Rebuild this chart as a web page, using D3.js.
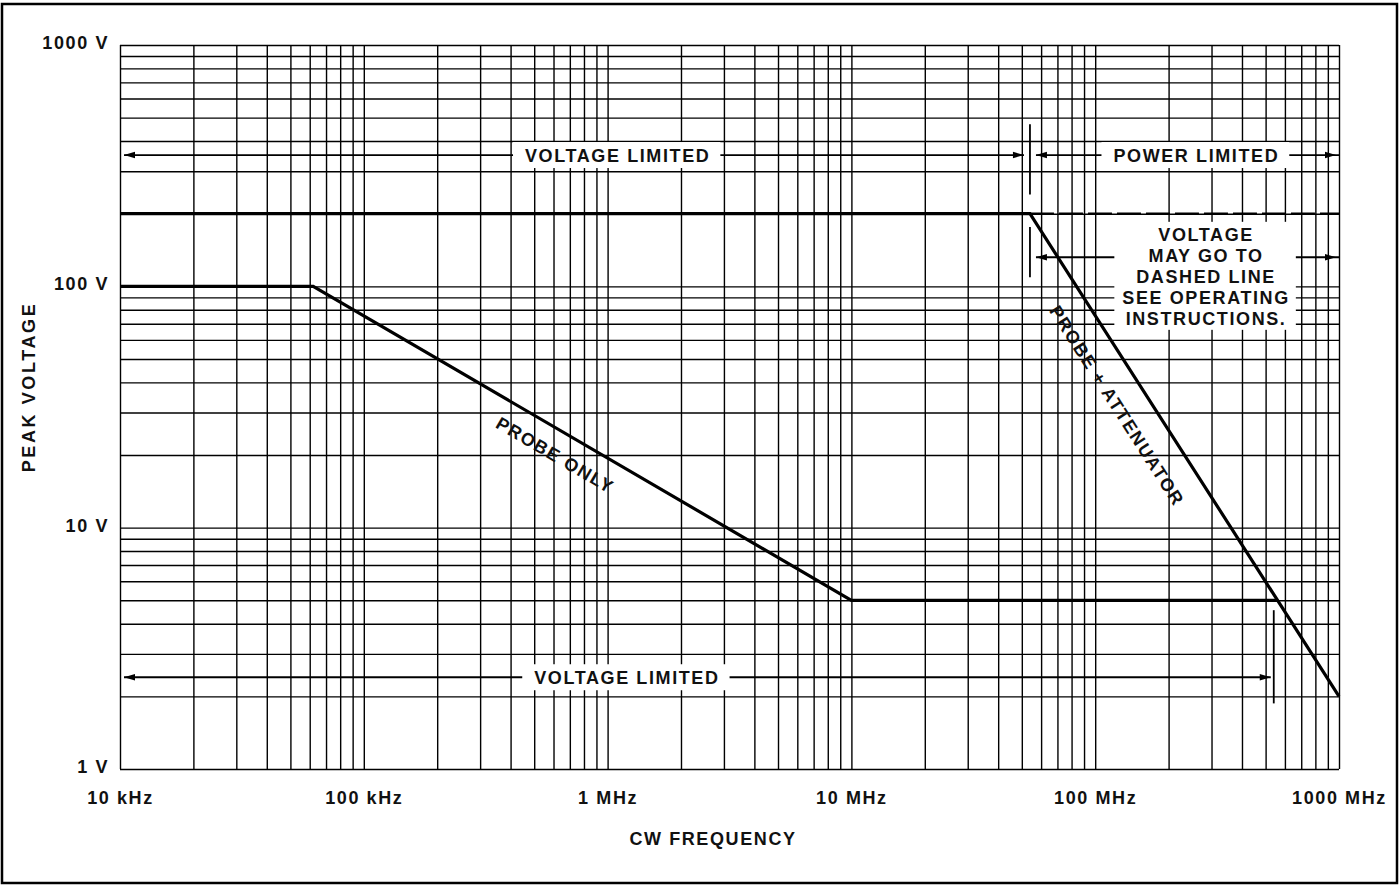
<!DOCTYPE html>
<html>
<head>
<meta charset="UTF-8">
<title>Peak voltage vs CW frequency</title>
<script src="https://d3js.org/d3.v7.min.js"></script>
<style>
  body { margin: 0; background: #fff; }
  svg { display: block; }
  text {
    font-family: "Liberation Sans", Arial, sans-serif;
    font-weight: bold;
    font-size: 18px;
    letter-spacing: 1.6px;
    fill: #111;
  }
  .grid line { stroke: #000; stroke-width: 1.4px; }
  .curve { fill: none; stroke: #000; stroke-width: 3.2px; }
  .dashed { stroke-dasharray: 24 5; stroke-width: 2.6px; }
  .ann line { stroke: #000; stroke-width: 1.8px; }
  .ann path { fill: #000; stroke: none; }
</style>
</head>
<body>
<svg id="chart" width="1400" height="888"></svg>
<script>
// axis ticks
const xTicks = [1e4, 1e5, 1e6, 1e7, 1e8, 1e9];
const xTickLabels = ["10 kHz", "100 kHz", "1 MHz", "10 MHz", "100 MHz", "1000 MHz"];
const yTicks = [1, 10, 100, 1000];
const yTickLabels = ["1 V", "10 V", "100 V", "1000 V"];

// probe only
const probeFreq = [1e4, 6.2e4, 1e7, 5.6e8];
const probeVolt = [100, 100, 5, 5];
// probe + attenuator
const attenFreq = [1e4, 5.4e7, 1e9];
const attenVolt = [200, 200, 2];
// dashed continuation
const dashFreq = [5.4e7, 1e9];
const dashVolt = [200, 200];

// voltage / power limit boundaries
const limitFreq = 5.4e7;
const lowLimitFreq = 5.4e8;

const margin = {top: 45, left: 120, right: 61, bottom: 119};
const W = 1400, H = 888;
const width = W - margin.left - margin.right,
      height = H - margin.top - margin.bottom;

const svg = d3.select("#chart");

svg.append("rect")
    .attr("x", 2).attr("y", 4)
    .attr("width", 1395).attr("height", 879)
    .attr("fill", "none").attr("stroke", "#000").attr("stroke-width", 2.5);

const g = svg.append("g").attr("transform", `translate(${margin.left},${margin.top})`);

const x = d3.scaleLog().domain([1e4, 1e9]).range([0, width]);
const y = d3.scaleLog().domain([1, 1000]).range([height, 0]);

// grid
g.append("g").attr("class", "grid")
    .attr("transform", `translate(0,${height})`)
    .call(d3.axisBottom(x).tickValues(x.ticks()).tickSize(-height).tickFormat(""))
    .call(s => s.select(".domain").remove());
g.append("g").attr("class", "grid")
    .call(d3.axisLeft(y).tickValues(y.ticks()).tickSize(-width).tickFormat(""))
    .call(s => s.select(".domain").remove());

// tick labels
g.append("g")
    .attr("transform", `translate(0,${height})`)
    .call(d3.axisBottom(x).tickValues(xTicks).tickSize(0).tickFormat((d, i) => xTickLabels[i]))
    .call(s => s.select(".domain").remove())
    .call(s => s.selectAll("text").attr("y", 35).attr("dy", null).attr("fill", "#111"));
g.append("g")
    .call(d3.axisLeft(y).tickValues(yTicks).tickSize(0).tickFormat((d, i) => yTickLabels[i]))
    .call(s => s.select(".domain").remove())
    .call(s => s.selectAll("text").attr("x", -11).attr("dy", "0.2em").attr("fill", "#111"));

// axis titles
svg.append("text")
    .attr("transform", `translate(35,387) rotate(-90)`)
    .attr("text-anchor", "middle")
    .style("letter-spacing", "2.6px")
    .text("PEAK VOLTAGE");
svg.append("text")
    .attr("x", 713).attr("y", 845)
    .attr("text-anchor", "middle")
    .text("CW FREQUENCY");

const boxLayer = g.append("g");
const ann = g.append("g").attr("class", "ann");
const curveLayer = g.append("g");
const textLayer = g.append("g");

function head(px, py, dir) {
  // small filled arrowhead, dir = -1 left, +1 right
  ann.append("path")
    .attr("d", `M${px},${py} L${px - dir * 11},${py - 3.2} L${px - dir * 11},${py + 3.2} Z`);
}
function seg(x1, x2, py) {
  ann.append("line").attr("x1", x1).attr("x2", x2).attr("y1", py).attr("y2", py);
}
function vmark(f, v1, v2) {
  ann.append("line")
    .attr("x1", x(f)).attr("x2", x(f))
    .attr("y1", y(v1)).attr("y2", y(v2));
}
// label with white box, returns [left, right] of box
function boxedLabel(f, v, str) {
  const t = textLayer.append("text")
      .attr("x", x(f)).attr("y", y(v))
      .attr("dy", "0.36em")
      .attr("text-anchor", "middle")
      .text(str);
  const b = t.node().getBBox();
  const l = b.x - 12, r = b.x + b.width + 10;
  boxLayer.append("rect")
      .attr("x", l).attr("y", y(v) - 13)
      .attr("width", r - l).attr("height", 26)
      .attr("fill", "#fff");
  return [l, r];
}

// top: voltage limited / power limited
const topV = 350;
let [a, b] = boxedLabel(1.1e6, topV, "VOLTAGE LIMITED");
seg(x(1e4) + 4, a, y(topV)); head(x(1e4) + 4, y(topV), -1);
seg(b, x(limitFreq) - 6, y(topV)); head(x(limitFreq) - 6, y(topV), 1);
vmark(limitFreq, 470, 240);
[a, b] = boxedLabel(2.6e8, topV, "POWER LIMITED");
seg(x(limitFreq) + 6, a, y(topV)); head(x(limitFreq) + 6, y(topV), -1);
seg(b, x(1e9), y(topV)); head(x(1e9) - 3, y(topV), 1);

// note block to the right
const noteLines = ["VOLTAGE", "MAY GO TO", "DASHED LINE", "SEE OPERATING", "INSTRUCTIONS."];
const noteF = 2.85e8, noteV = 110, noteArrowV = 132;
const nx = x(noteF), ny = y(noteV);
const nt = textLayer.append("text").attr("text-anchor", "middle");
noteLines.forEach((s, i) => {
  nt.append("tspan").attr("x", nx).attr("y", ny + (i - 2) * 21).attr("dy", "0.36em").text(s);
});
const nb = nt.node().getBBox();
boxLayer.append("rect")
    .attr("x", nb.x - 8).attr("y", nb.y - 3)
    .attr("width", nb.width + 14).attr("height", nb.height + 4)
    .attr("fill", "#fff");
vmark(limitFreq, 176, 109);
seg(x(limitFreq) + 6, nb.x - 8, y(noteArrowV)); head(x(limitFreq) + 6, y(noteArrowV), -1);
seg(nb.x + nb.width + 6, x(1e9), y(noteArrowV)); head(x(1e9) - 3, y(noteArrowV), 1);

// bottom: voltage limited
const botV = 2.4;
[a, b] = boxedLabel(1.2e6, botV, "VOLTAGE LIMITED");
seg(x(1e4) + 4, a, y(botV)); head(x(1e4) + 4, y(botV), -1);
seg(b, x(lowLimitFreq) - 3, y(botV)); head(x(lowLimitFreq) - 3, y(botV), 1);
vmark(lowLimitFreq, 4.55, 1.87);

// curves
const line = d3.line().x(d => x(d[0])).y(d => y(d[1]));
curveLayer.append("path").attr("class", "curve")
    .attr("d", line(probeFreq.map((f, i) => [f, probeVolt[i]])));
curveLayer.append("path").attr("class", "curve")
    .attr("d", line(attenFreq.map((f, i) => [f, attenVolt[i]])));
curveLayer.append("path").attr("class", "curve dashed")
    .attr("d", line(dashFreq.map((f, i) => [f, dashVolt[i]])));

// slanted curve labels
function slanted(f, v, f1, v1, f2, v2, str) {
  const ang = Math.atan2(y(v2) - y(v1), x(f2) - x(f1)) * 180 / Math.PI;
  textLayer.append("text")
      .attr("transform", `translate(${x(f)},${y(v)}) rotate(${ang})`)
      .attr("text-anchor", "middle")
      .attr("dy", "0.36em")
      .text(str);
}
slanted(6.1e5, 20, probeFreq[1], probeVolt[1], probeFreq[2], probeVolt[2], "PROBE ONLY");
slanted(1.23e8, 32, attenFreq[1], attenVolt[1], attenFreq[2], attenVolt[2], "PROBE + ATTENUATOR");
</script>
</body>
</html>
